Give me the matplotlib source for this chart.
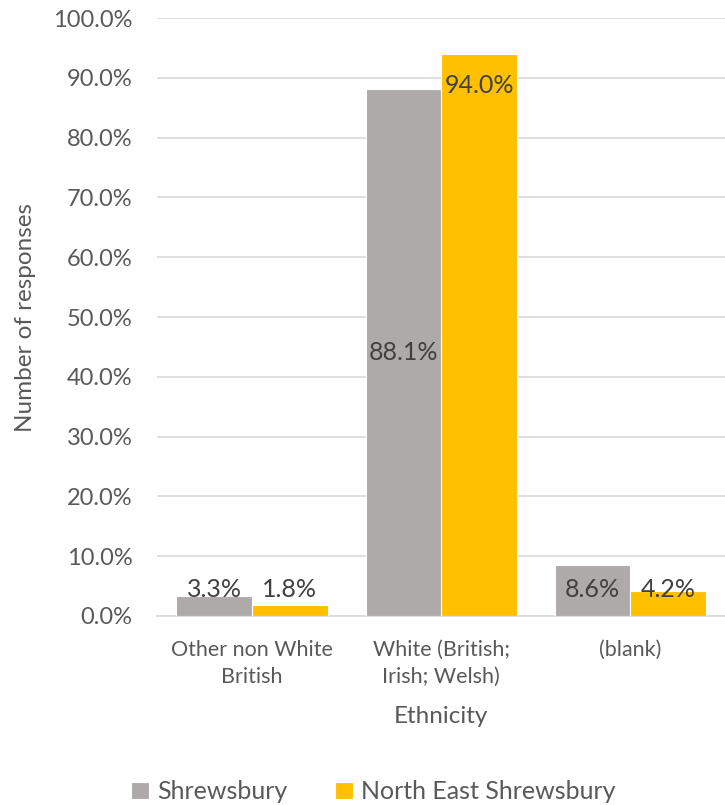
import numpy as np
from matplotlib import pyplot as plt

# Ethnicity survey responses (% of respondents)
categories = ["Other non White\nBritish", "White (British;\nIrish; Welsh)", "(blank)"]
shrewsbury = [3.3, 88.1, 8.6]
north_east = [1.8, 94.0, 4.2]
series_names = ["Shrewsbury", "North East Shrewsbury"]

GREY = "#AEAAAA"
YELLOW = "#FFC000"
TEXT = "#595959"
LABEL = "#404040"

plt.rcParams['font.family'] = ['Lato', 'DejaVu Sans']

fig = plt.figure(figsize=(7.25, 8.05), dpi=100)
ax = fig.add_axes([0.2172, 0.2348, 0.7828, 0.7428])

x = np.arange(len(categories))
w = 0.40
b1 = ax.bar(x - w/2, shrewsbury, w, color=GREY, edgecolor="white", linewidth=0.8,
            label=series_names[0], zorder=3)
b2 = ax.bar(x + w/2, north_east, w, color=YELLOW, edgecolor="white", linewidth=0.8,
            label=series_names[1], zorder=3)

# data labels: grey centred, yellow inside end, small ones lifted clear of the axis
for xi, v in zip(x - w/2, shrewsbury):
    ax.text(xi, max(v / 2, 4.4), "%.1f%%" % v, ha="center", va="center",
            fontsize=18, color=LABEL, zorder=4)
for xi, v in zip(x + w/2, north_east):
    ax.text(xi, max(v - 5.3, 4.4), "%.1f%%" % v, ha="center", va="center",
            fontsize=18, color=LABEL, zorder=4)

ax.set_xlim(-0.5, 2.5)
ax.set_ylim(0, 100)
ax.set_yticks(np.arange(0, 101, 10))
ax.set_yticklabels(["%.1f%%" % t for t in np.arange(0, 101, 10)])
ax.set_xticks(x)
ax.set_xticklabels(categories, linespacing=1.45, fontsize=15.5)

ax.grid(axis="y", color="#D9D9D9", linewidth=1.2, zorder=0)
for s in ["top", "right", "left"]:
    ax.spines[s].set_visible(False)
ax.spines["bottom"].set_color("#D9D9D9")
ax.spines["bottom"].set_linewidth(1.2)
ax.tick_params(axis="both", length=0, labelsize=17, labelcolor=TEXT)
ax.tick_params(axis="y", pad=18)
ax.tick_params(axis="x", labelsize=15.5, pad=17)

ax.set_xlabel("Ethnicity", fontsize=17.5, color=TEXT, labelpad=14)
ax.set_ylabel("Number of responses", fontsize=17.5, color=TEXT, labelpad=12)

fig.legend(handles=[b1, b2], labels=series_names, loc="lower center",
           bbox_to_anchor=(0.515, -0.026), ncol=2, frameon=False, fontsize=18,
           labelcolor=TEXT, handlelength=0.7, handleheight=0.7,
           handletextpad=0.35, columnspacing=1.9)

fig.savefig("out.png", dpi=100)
